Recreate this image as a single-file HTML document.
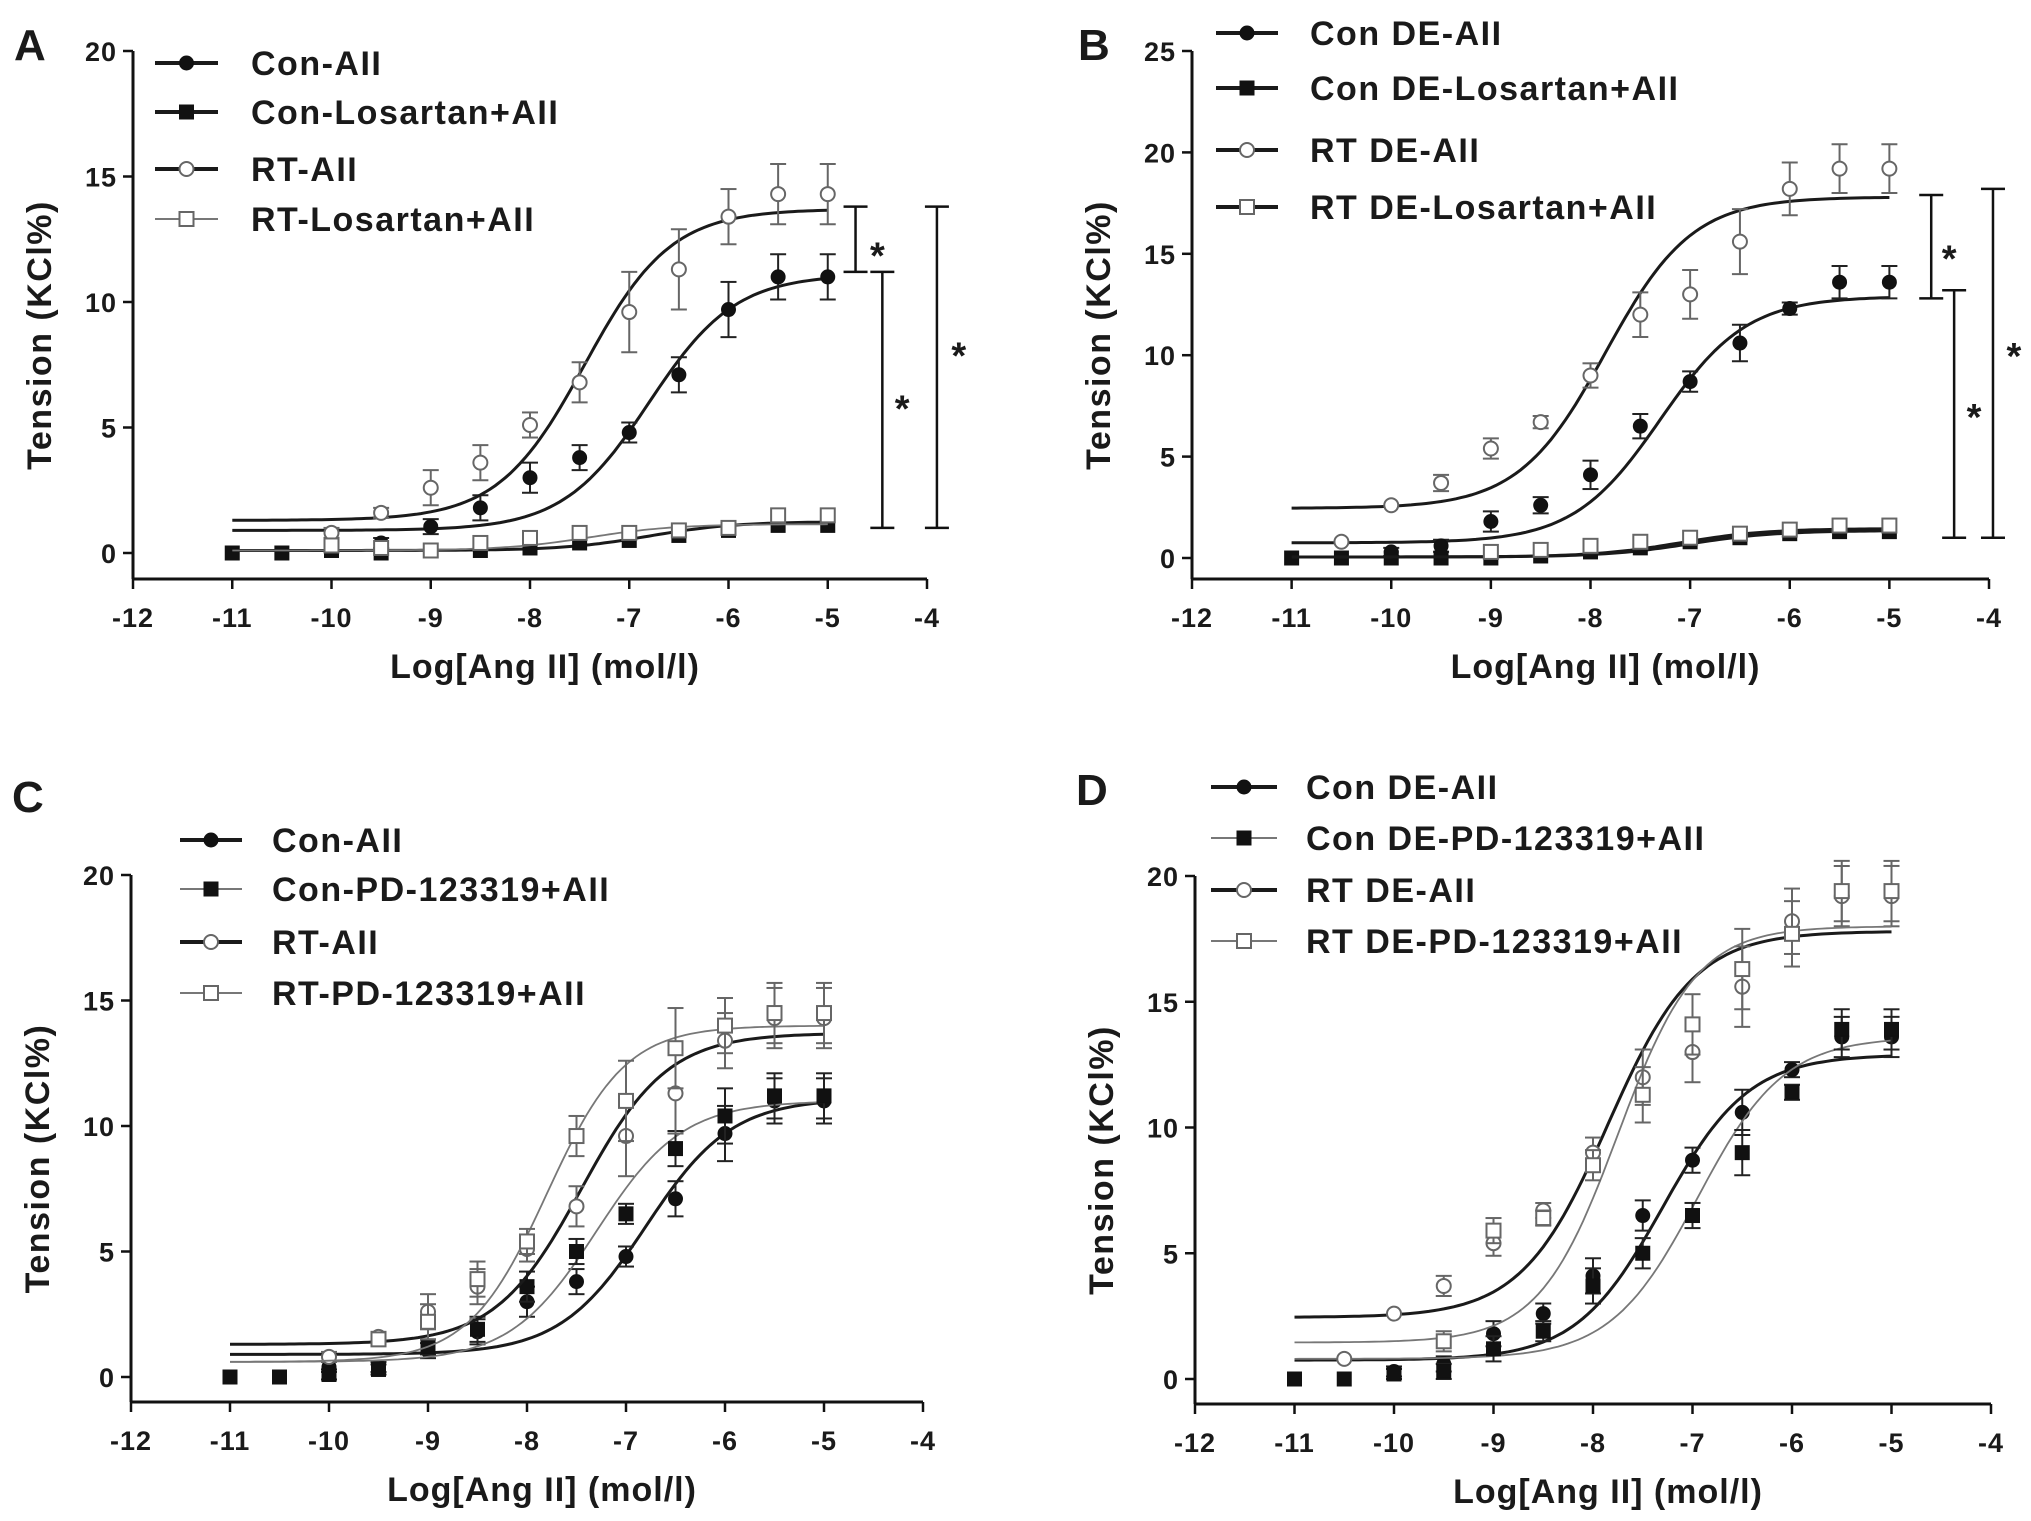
<!DOCTYPE html>
<html><head><meta charset="utf-8"><style>
html,body{margin:0;padding:0;background:#fff;}
svg text{font-family:"Liberation Sans",sans-serif;font-weight:bold;fill:#1a1a1a;}
</style></head><body>
<svg id="fig" width="2031" height="1516" viewBox="0 0 2031 1516" xmlns="http://www.w3.org/2000/svg"></svg>
<script>
const xs = [-11,-10.5,-10,-9.5,-9,-8.5,-8,-7.5,-7,-6.5,-6,-5.5,-5];
const xTicks = [-12,-11,-10,-9,-8,-7,-6,-5,-4];
// Panel A
const aConAII = [null,null,0.4,0.4,1.05,1.8,3.0,3.8,4.8,7.1,9.7,11.0,11.0];
const aConLos = [0,0,0.1,0,0.1,0.1,0.2,0.4,0.5,0.7,0.9,1.1,1.1];
const aRTAII = [null,null,0.8,1.6,2.6,3.6,5.1,6.8,9.6,11.3,13.4,14.3,14.3];
const aRTLos = [null,null,0.3,0.2,0.1,0.4,0.6,0.8,0.8,0.9,1.0,1.5,1.5];
// Panel B
const bConAII = [null,null,0.3,0.6,1.8,2.6,4.1,6.5,8.7,10.6,12.3,13.6,13.6];
const bConLos = [0,0,0,0,0,0.1,0.3,0.5,0.8,1.0,1.2,1.3,1.3];
const bRTAII = [null,0.8,2.6,3.7,5.4,6.7,9.0,12.0,13.0,15.6,18.2,19.2,19.2];
const bRTLos = [null,null,null,null,0.3,0.4,0.6,0.8,1.0,1.2,1.4,1.6,1.6];
// Panel C
const cConPD = [0,0,0.1,0.3,1.2,1.9,3.6,5.0,6.5,9.1,10.4,11.2,11.2];
const cRTPD = [null,null,null,1.5,2.2,3.9,5.4,9.6,11.0,13.1,14.0,14.5,14.5];
// Panel D
const dConPD = [0,0,0.2,0.3,1.2,1.9,3.7,5.0,6.5,9.0,11.4,13.9,13.9];
const dRTPD = [null,null,null,1.5,5.9,6.4,8.5,11.3,14.1,16.3,17.7,19.4,19.4];
// error (SEM)
const errAII = [0,0,0.2,0.2,0.3,0.5,0.6,0.5,0.4,0.7,1.1,0.9,0.9];
const errRT = [0,0,0.2,0.2,0.7,0.7,0.5,0.8,1.6,1.6,1.1,1.2,1.2];
const errSmall = [0,0,0.1,0.1,0.1,0.1,0.1,0.1,0.1,0.1,0.1,0.1,0.1];
const errDE = [0,0,0.2,0.3,0.5,0.4,0.7,0.6,0.5,0.9,0.3,0.8,0.8];
const errRTDE = [0,0.1,0.1,0.4,0.5,0.3,0.6,1.1,1.2,1.6,1.3,1.2,1.2];
// fitted curve params [bottom, top, logEC50, hill]
const fitAConAII=[0.9,11.1,-6.8,1], fitAConLos=[0.1,1.25,-6.8,1], fitART=[1.3,13.7,-7.45,1], fitARTLos=[0.1,1.15,-7.4,1];
const fitBCon=[0.75,12.9,-7.3,1], fitBRT=[2.45,17.8,-7.85,1], fitBLos=[0.05,1.35,-7.0,1], fitBRTLos=[0.05,1.45,-7.1,1];
const fitCConPD=[0.6,11.0,-7.3,1], fitCRTPD=[0.6,14.0,-7.8,1.1];
const fitDConPD=[0.8,13.6,-6.95,1], fitDRTPD=[1.45,18.0,-7.75,1.1];

const NS="http://www.w3.org/2000/svg";
const svg=document.getElementById('fig');
function mk(tag,attrs,parent){const e=document.createElementNS(NS,tag);for(const k in attrs)e.setAttribute(k,attrs[k]);(parent||svg).appendChild(e);return e;}
function sig(p,x){return p[0]+(p[1]-p[0])/(1+Math.pow(10,(p[2]-x)*p[3]));}

const panels=[
 {id:'a',letter:'A',lx:14,ly:60,x0:133,x4:927,yTop:51,yTopV:20,y0:553,axisY:579,yTicks:[0,5,10,15,20],
  leg:{x1:155,x2:218,tx:251,ys:[63,112,169,219]},
  series:[
   {name:'Con-AII',d:aConAII,e:errAII,fit:fitAConAII,m:'fc',bold:true},
   {name:'Con-Losartan+AII',d:aConLos,e:errSmall,fit:fitAConLos,m:'fs',bold:true},
   {name:'RT-AII',d:aRTAII,e:errRT,fit:fitART,m:'oc',bold:true},
   {name:'RT-Losartan+AII',d:aRTLos,e:errSmall,fit:fitARTLos,m:'os',bold:false}],
  brackets:[[-4.72,13.8,11.2,-4.5,12.3],[-4.45,11.2,1.0,-4.25,6.2],[-3.9,13.8,1.0,-3.68,8.3]]},
 {id:'b',letter:'B',lx:1078,ly:60,x0:1192,x4:1989,yTop:51,yTopV:25,y0:558,axisY:579,yTicks:[0,5,10,15,20,25],
  leg:{x1:1216,x2:1278,tx:1310,ys:[33,88,150,207]},
  series:[
   {name:'Con DE-AII',d:bConAII,e:errDE,fit:fitBCon,m:'fc',bold:true},
   {name:'Con DE-Losartan+AII',d:bConLos,e:errSmall,fit:fitBLos,m:'fs',bold:true},
   {name:'RT DE-AII',d:bRTAII,e:errRTDE,fit:fitBRT,m:'oc',bold:true},
   {name:'RT DE-Losartan+AII',d:bRTLos,e:errSmall,fit:fitBRTLos,m:'os',bold:true}],
  brackets:[[-4.58,17.9,12.8,-4.4,15.3],[-4.35,13.2,1.0,-4.15,7.5],[-3.96,18.2,1.0,-3.75,10.5]]},
 {id:'c',letter:'C',lx:12,ly:812,x0:131,x4:923,yTop:875,yTopV:20,y0:1377,axisY:1402,yTicks:[0,5,10,15,20],
  leg:{x1:180,x2:242,tx:272,ys:[840,889,942,993]},
  series:[
   {name:'Con-AII',d:aConAII,e:errAII,fit:fitAConAII,m:'fc',bold:true},
   {name:'Con-PD-123319+AII',d:cConPD,e:errAII,fit:fitCConPD,m:'fs',bold:false},
   {name:'RT-AII',d:aRTAII,e:errRT,fit:fitART,m:'oc',bold:true},
   {name:'RT-PD-123319+AII',d:cRTPD,e:errRT,fit:fitCRTPD,m:'os',bold:false}],
  brackets:[]},
 {id:'d',letter:'D',lx:1076,ly:805,x0:1195,x4:1991,yTop:876,yTopV:20,y0:1379,axisY:1404,yTicks:[0,5,10,15,20],
  leg:{x1:1211,x2:1277,tx:1306,ys:[787,838,890,941]},
  series:[
   {name:'Con DE-AII',d:bConAII,e:errDE,fit:fitBCon,m:'fc',bold:true},
   {name:'Con DE-PD-123319+AII',d:dConPD,e:errDE,fit:fitDConPD,m:'fs',bold:false},
   {name:'RT DE-AII',d:bRTAII,e:errRTDE,fit:fitBRT,m:'oc',bold:true},
   {name:'RT DE-PD-123319+AII',d:dRTPD,e:errRTDE,fit:fitDRTPD,m:'os',bold:false}],
  brackets:[]}
];

function marker(g,type,x,y){
  const filled=type[0]==='f', col=filled?'#111':'#666';
  if(type[1]==='c') return mk('circle',{cx:x,cy:y,r:7,fill:filled?'#111':'#fff',stroke:col,'stroke-width':filled?1:2},g);
  return mk('rect',{x:x-7,y:y-7,width:14,height:14,fill:filled?'#111':'#fff',stroke:col,'stroke-width':filled?1:2},g);
}

panels.forEach(P=>{
  const g=mk('g',{});
  
  
  const X=v=>P.x0+(v+12)*(P.x4-P.x0)/8;
  const Y=v=>P.y0-v*(P.y0-P.yTop)/P.yTopV;
  const lt=mk('text',{x:P.lx,y:P.ly,'font-size':44},g);lt.textContent=P.letter;
  
  
  const ya=mk('line',{x1:P.x0,y1:P.yTop,x2:P.x0,y2:P.axisY,stroke:'#111','stroke-width':3},g);
  
  
  const xa=mk('line',{x1:P.x0,y1:P.axisY,x2:P.x4,y2:P.axisY,stroke:'#111','stroke-width':3},g);
  
  
  P.yTicks.forEach(t=>{
    mk('line',{x1:P.x0-10,y1:Y(t),x2:P.x0,y2:Y(t),stroke:'#111','stroke-width':2.5},g);
    const tx=mk('text',{x:P.x0-16,y:Y(t)+10,'font-size':27,'letter-spacing':1,'text-anchor':'end'},g);tx.textContent=t;
    
    
  });
  xTicks.forEach(t=>{
    mk('line',{x1:X(t),y1:P.axisY,x2:X(t),y2:P.axisY+10,stroke:'#111','stroke-width':2.5},g);
    const tx=mk('text',{x:X(t),y:P.axisY+48,'font-size':27,'letter-spacing':1,'text-anchor':'middle'},g);tx.textContent=t;
    
    
  });
  const xt=mk('text',{x:(P.x0+P.x4)/2+15,y:P.axisY+99,'font-size':34,'letter-spacing':1,'text-anchor':'middle'},g);
  xt.textContent='Log[Ang II] (mol/l)';
  
  
  const ymid=(P.yTop+P.axisY)/2+20;
  const yt=mk('text',{x:0,y:0,'font-size':34,'letter-spacing':1.5,'text-anchor':'middle',transform:`translate(${P.x0-82},${ymid}) rotate(-90)`},g);
  yt.textContent='Tension (KCl%)';
  
  
  P.series.forEach((s,si)=>{
    const sg=mk('g',{},g);
    
    
    const lineCol=s.bold?'#1a1a1a':'#777', lw=s.bold?3:1.8;
    let d='';
    for(let x=-11;x<=-4.999;x+=0.05){d+=(d?'L':'M')+X(x).toFixed(1)+','+Y(sig(s.fit,x)).toFixed(1);}
    const cp=mk('path',{d:d,fill:'none',stroke:lineCol,'stroke-width':lw},sg);
    
    
    const ec=s.m[0]==='f'?'#222':'#666';
    s.d.forEach((v,i)=>{
      if(v===null)return;
      const e=s.e[i];
      if(e>0.15){
        mk('line',{x1:X(xs[i]),y1:Y(v+e),x2:X(xs[i]),y2:Y(v-e),stroke:ec,'stroke-width':2},sg);
        mk('line',{x1:X(xs[i])-8,y1:Y(v+e),x2:X(xs[i])+8,y2:Y(v+e),stroke:ec,'stroke-width':2},sg);
        mk('line',{x1:X(xs[i])-8,y1:Y(v-e),x2:X(xs[i])+8,y2:Y(v-e),stroke:ec,'stroke-width':2},sg);
      }
      const m=marker(sg,s.m,X(xs[i]),Y(v));
      
      
    });
    const lg=mk('g',{},g);
    
    
    const ly=P.leg.ys[si];
    mk('line',{x1:P.leg.x1,y1:ly,x2:P.leg.x2,y2:ly,stroke:lineCol,'stroke-width':s.bold?4:2},lg);
    marker(lg,s.m,(P.leg.x1+P.leg.x2)/2,ly);
    const t=mk('text',{x:P.leg.tx,y:ly+12,'font-size':34,'letter-spacing':1.5},lg);t.textContent=s.name;
  });
  P.brackets.forEach(b=>{
    const bg=mk('g',{},g);
    
    
    const bx=X(b[0]);
    mk('line',{x1:bx,y1:Y(b[1]),x2:bx,y2:Y(b[2]),stroke:'#111','stroke-width':2.5},bg);
    mk('line',{x1:bx-12,y1:Y(b[1]),x2:bx+12,y2:Y(b[1]),stroke:'#111','stroke-width':2.5},bg);
    mk('line',{x1:bx-12,y1:Y(b[2]),x2:bx+12,y2:Y(b[2]),stroke:'#111','stroke-width':2.5},bg);
    const st=mk('text',{x:X(b[3]),y:Y(b[4])+24,'font-size':38,'text-anchor':'middle'},bg);st.textContent='*';
  });
});
</script>
</body></html>
